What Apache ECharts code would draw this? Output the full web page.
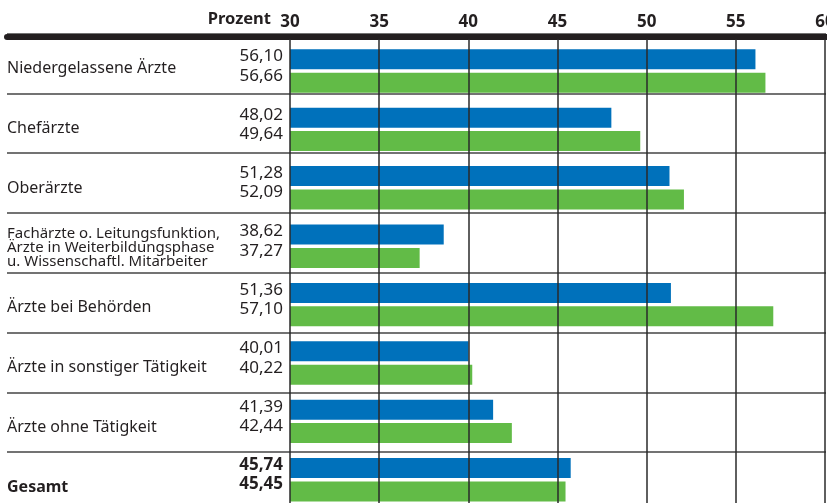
<!DOCTYPE html>
<html><head><meta charset="utf-8">
<script src="https://cdn.jsdelivr.net/npm/echarts@6/dist/echarts.min.js"></script>
<style>html,body{margin:0;padding:0;background:#fff}#c{width:827px;height:503px}</style>
</head><body><div id="c"></div>
<script>
const categories = [
  'Niedergelassene Ärzte',
  'Chefärzte',
  'Oberärzte',
  'Fachärzte o. Leitungsfunktion,\nÄrzte in Weiterbildungsphase\nu. Wissenschaftl. Mitarbeiter',
  'Ärzte bei Behörden',
  'Ärzte in sonstiger Tätigkeit',
  'Ärzte ohne Tätigkeit',
  'Gesamt'
];
const valuesBlue  = [56.10, 48.02, 51.28, 38.62, 51.36, 40.01, 41.39, 45.74];
const valuesGreen = [56.66, 49.64, 52.09, 37.27, 57.10, 40.22, 42.44, 45.45];
const axisMin = 30, axisMax = 60, axisInterval = 5;
const axisTitle = 'Prozent';

const INK = '#231f20';
const FONT = 'Noto Sans';
const lastIdx = categories.length - 1;
const fmt = v => v.toFixed(2).replace('.', ',');

function barData(arr) {
  return arr.map((v, i) => i === lastIdx ? { value: v, label: { fontWeight: 'bold' } } : v);
}

const chart = echarts.init(document.getElementById('c'), null, { renderer: 'canvas' });
chart.setOption({
  animation: false,
  textStyle: { fontFamily: FONT, color: INK },
  title: {
    text: axisTitle, right: 556, top: 11, padding: 0,
    textStyle: { fontFamily: FONT, fontWeight: 'bold', fontSize: 16.5, color: INK }
  },
  grid: [
    { left: 290, right: 2, top: 41.8, height: 467.2, outerBoundsMode: 'none', containLabel: false },
    { left: 290, right: 2, top: 39, bottom: 0, outerBoundsMode: 'none', containLabel: false },
    { left: 7, right: 1, top: 33.5, height: 478.4, outerBoundsMode: 'none', containLabel: false }
  ],
  xAxis: [
    { gridIndex: 0, type: 'value', min: axisMin, max: axisMax, interval: axisInterval, show: false },
    { gridIndex: 1, type: 'value', min: axisMin, max: axisMax, interval: axisInterval,
      position: 'top', z: 10,
      axisLine: { show: false }, axisTick: { show: false },
      axisLabel: { fontFamily: FONT, fontWeight: 'bold', fontSize: 17, color: INK, margin: 8 },
      splitLine: { show: true, lineStyle: { color: '#2a2a2a', width: 1.5 } }
    },
    { gridIndex: 2, type: 'value', position: 'top', offset: -3, z: 6,
      axisLine: { show: true, lineStyle: { color: INK, width: 6 } },
      axisTick: { show: false }, axisLabel: { show: false }, splitLine: { show: false } }
  ],
  yAxis: [
    { gridIndex: 0, type: 'category', data: categories, inverse: true, show: false },
    { gridIndex: 1, type: 'value', show: false },
    { gridIndex: 2, type: 'category', data: categories, inverse: true,
      axisLine: { show: false }, axisTick: { show: false },
      splitLine: { show: true, lineStyle: { color: '#444', width: 1.6 } },
      axisLabel: {
        interval: 0, align: 'left', margin: 0, padding: [10, 0, 0, 0],
        formatter: (v, i) => i === lastIdx ? '{b|' + v + '}' : (v.indexOf('\n') >= 0 ? '{m|' + v + '}' : '{n|' + v + '}'),
        rich: {
          n: { fontFamily: FONT, fontSize: 16, color: INK },
          b: { fontFamily: FONT, fontSize: 16, fontWeight: 'bold', color: INK },
          m: { fontFamily: FONT, fontSize: 15, lineHeight: 14, color: INK }
        }
      }
    }
  ],
  series: [
    { name: 'Blau', type: 'bar', xAxisIndex: 0, yAxisIndex: 0, data: barData(valuesBlue),
      barWidth: 20, barGap: '17%', itemStyle: { color: '#0071bb' },
      label: { show: true, position: 'left', distance: 7, offset: [0, -3],
        fontFamily: FONT, fontSize: 17, color: INK, formatter: p => fmt(p.value) } },
    { name: 'Grün', type: 'bar', xAxisIndex: 0, yAxisIndex: 0, data: barData(valuesGreen),
      barWidth: 20, itemStyle: { color: '#62bb47' },
      label: { show: true, position: 'left', distance: 7, offset: [0, -7],
        fontFamily: FONT, fontSize: 17, color: INK, formatter: p => fmt(p.value) } }
  ]
});
</script>
</body></html>
